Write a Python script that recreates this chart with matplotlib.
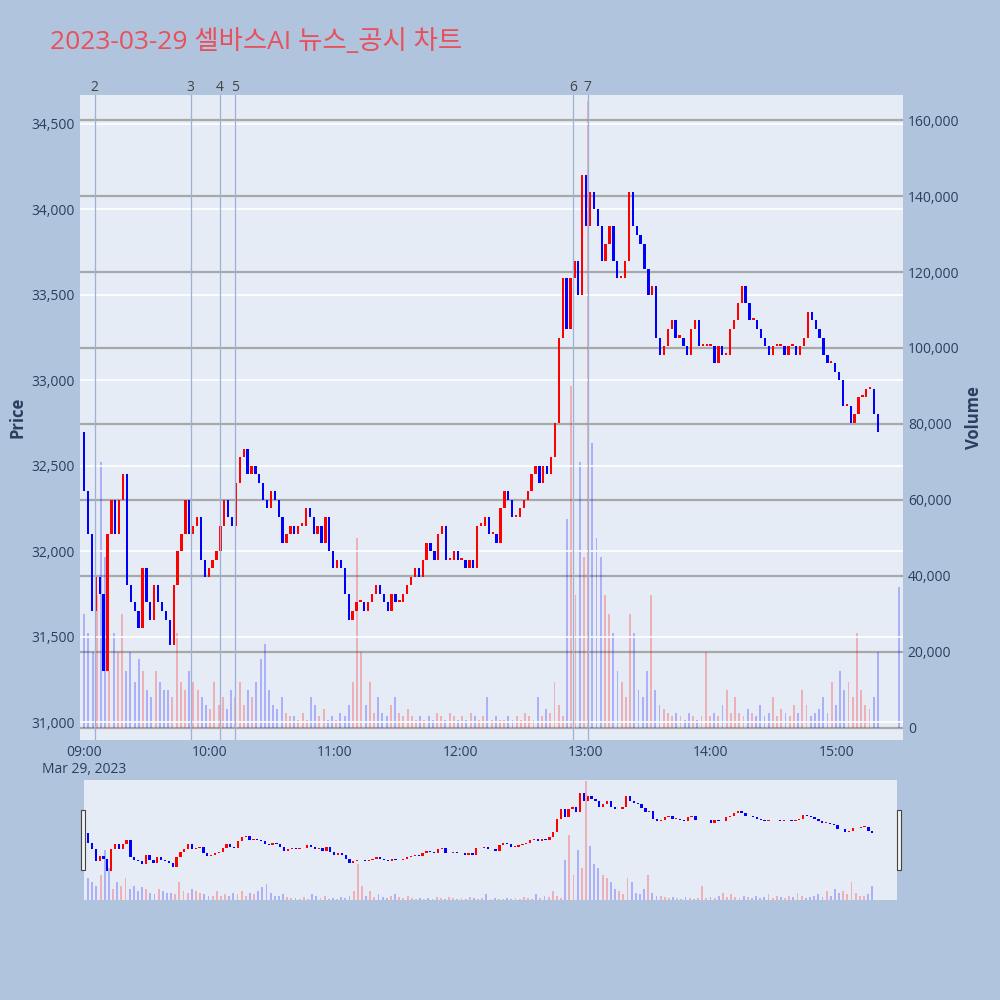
import matplotlib
matplotlib.use("Agg")
import matplotlib.pyplot as plt
import matplotlib.dates as mdates
import numpy as np
import datetime as dt

plt.rcParams['font.family'] = ['Open Sans', 'Noto Sans CJK KR', 'DejaVu Sans']

close = [32350,32100,31650,31850,31750,31300,32100,32300,32100,32300,
         32450,31800,31700,31650,31550,31900,31700,31600,31800,31700,
         31650,31600,31450,31800,32000,32100,32300,32100,32150,32200,
         31950,31850,31900,31950,32000,32150,32300,32200,32150,32400,
         32550,32600,32450,32500,32450,32400,32300,32250,32350,32300,
         32200,32050,32100,32150,32100,32150,32150,32250,32200,32100,
         32150,32050,32200,32000,31900,31950,31900,31750,31600,31650,
         31700,31700,31650,31700,31750,31800,31750,31700,31650,31750,
         31700,31700,31750,31800,31850,31900,31850,31950,32050,32000,
         31950,32100,32150,31950,31950,32000,31950,31950,31900,31950,
         31900,32150,32150,32200,32100,32100,32050,32250,32350,32300,
         32200,32200,32250,32300,32350,32450,32500,32400,32500,32450,
         32550,32750,33250,33600,33300,33600,33700,33500,34200,33900,
         34100,34000,33900,33700,33800,33900,33700,33600,33600,33700,
         34100,33900,33850,33800,33650,33500,33550,33250,33150,33200,
         33300,33350,33250,33250,33200,33150,33300,33350,33200,33200,
         33200,33200,33100,33200,33150,33150,33300,33350,33450,33550,
         33450,33350,33350,33300,33250,33200,33150,33200,33200,33200,
         33150,33200,33200,33150,33200,33250,33400,33350,33300,33250,
         33150,33100,33100,33050,33000,32850,32850,32750,32800,32900,
         32900,32950,32950,32800,32700]
volume_k = [30,25,20,35,70,45,15,25,20,30,
            15,20,12,18,15,10,8,15,12,10,
            10,8,25,12,10,15,12,10,8,6,
            5,12,6,8,5,10,8,12,6,10,
            8,12,18,22,10,6,5,8,4,3,
            3,2,4,2,8,6,3,5,2,3,
            2,4,3,6,12,50,20,6,12,4,
            8,4,3,6,8,4,3,5,3,2,
            3,2,3,2,4,3,2,4,3,2,
            3,2,4,3,2,3,8,2,3,2,
            2,3,2,3,2,4,3,2,8,3,
            5,4,12,6,3,55,90,35,70,45,
            165,75,50,45,35,30,25,15,12,8,
            30,25,10,8,15,35,10,6,5,4,
            3,4,3,2,4,3,2,3,20,3,
            4,3,6,10,4,8,4,3,5,4,
            3,6,3,4,8,3,5,4,3,6,
            4,10,6,3,4,5,8,4,12,6,
            15,10,12,8,25,10,6,5,8,20]
first_open = 32700
last_volume_time = "15:30"
last_volume_k = 37
event_labels = ["2","3","4","5","6","7"]
event_times = ["09:05","09:51","10:05","10:12","12:54","13:01"]
title = "2023-03-29 셀바스AI 뉴스_공시 차트"

n = len(close)
nv = len(volume_k)
span = 380
volume = np.array(volume_k) * 1000
opens = [first_open] + close[:-1]
t0 = dt.datetime(2023, 3, 29, 9, 0)
tnum = mdates.date2num([t0 + dt.timedelta(minutes=span*i/(n-1)) for i in range(n)])
vnum = mdates.date2num([t0 + dt.timedelta(minutes=span*i/(nv-1)) for i in range(nv)])
w = span/(n-1)/1440*0.6
wv = span/(nv-1)/1440*0.45
up = [c >= o for o, c in zip(opens, close)]
cols = ['#ff0000' if u else '#0000ff' for u in up]
vcols = [cols[int(round(i*(n-1)/(nv-1)))] for i in range(nv)]
bot = [min(o, c) for o, c in zip(opens, close)]
hgt = [max(abs(c-o), 12) for o, c in zip(opens, close)]
def tparse(s):
    h, m = map(int, s.split(':'))
    return mdates.date2num(dt.datetime(2023, 3, 29, h, m))

BG = '#b0c4de'; PBG = '#e5ecf6'; TXT = '#2a3f5f'
fig = plt.figure(figsize=(10, 10), dpi=100, facecolor=BG)
fig.text(0.05, 0.958, title, fontsize=19, color='#e8505b', va='center')

rect = [0.08, 0.26, 0.823, 0.645]
bg = fig.add_axes(rect); bg.set_facecolor(PBG); bg.set_xticks([]); bg.set_yticks([])
for s in bg.spines.values(): s.set_visible(False)
bg.set_zorder(0)
ax = fig.add_axes(rect)
axv = ax.twinx()
ax.set_zorder(3); axv.set_zorder(2); ax.patch.set_visible(False); axv.patch.set_visible(False)
xlim = (tparse("08:58"), tparse("15:32"))
axv.bar(vnum, volume, width=wv, color=vcols, alpha=0.25)
axv.bar([tparse(last_volume_time)], [last_volume_k*1000], width=wv, color='#0000ff', alpha=0.25)
axv.set_ylim(-3200, 166600)
axv.set_yticks(range(0, 160001, 20000))
axv.set_yticklabels([f"{v:,}" for v in range(0, 160001, 20000)], color=TXT, fontsize=10)
axv.grid(axis='y', color='#a8a8a8', lw=1.6)
axv.set_axisbelow(True)
axv.set_ylabel("Volume", fontsize=12, fontweight='bold', color=TXT)
ax.bar(tnum, hgt, bottom=bot, width=w, color=cols, zorder=3)
ax.set_ylim(30895, 34669)
ax.set_yticks(range(31000, 34501, 500))
ax.set_yticklabels([f"{v:,}" for v in range(31000, 34501, 500)], color=TXT, fontsize=10)
ax.grid(axis='y', color='white', lw=1.2)
ax.set_ylabel("Price", fontsize=12, fontweight='bold', color=TXT)
for a in (ax, axv):
    a.set_xlim(*xlim)
    for s in a.spines.values(): s.set_visible(False)
    a.tick_params(length=0)
hours = ["09:00","10:00","11:00","12:00","13:00","14:00","15:00"]
ax.set_xticks([tparse(h) for h in hours])
ax.set_xticklabels(["09:00\nMar 29, 2023"] + hours[1:], color=TXT, fontsize=10)
for lab, tm in zip(event_labels, event_times):
    x = tparse(tm)
    ax.axvline(x, color='#9fb0d8', lw=0.9, zorder=4)
    ax.text(x, 34669, lab, ha='center', va='bottom', fontsize=10, color='#444')

rrect = [0.084, 0.10, 0.813, 0.12]
rbg = fig.add_axes(rrect); rbg.set_facecolor(PBG); rbg.set_xticks([]); rbg.set_yticks([])
for s in rbg.spines.values(): s.set_visible(False)
rs = fig.add_axes(rrect)
rsv = rs.twinx()
rs.set_zorder(3); rsv.set_zorder(2); rs.patch.set_visible(False); rsv.patch.set_visible(False)
rsv.bar(vnum, volume, width=wv, color=vcols, alpha=0.25)
rsv.set_ylim(0, 166600)
rs.bar(tnum, hgt, bottom=bot, width=w, color=cols)
rs.set_ylim(30200, 34700)
for a in (rs, rsv):
    a.set_xlim(*xlim)
    a.set_xticks([]); a.set_yticks([])
    for s in a.spines.values(): s.set_visible(False)
for xx in (0.081, 0.897):
    fig.patches.append(plt.Rectangle((xx, 0.13), 0.004, 0.06, transform=fig.transFigure,
                                     facecolor='#f2f2f2', edgecolor='#444', lw=0.8, zorder=10))
fig.savefig("out.png", facecolor=BG)
